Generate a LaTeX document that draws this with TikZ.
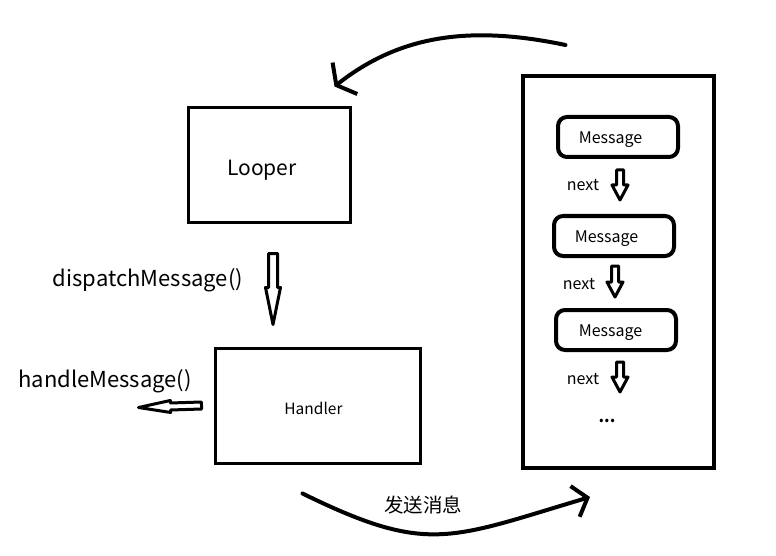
\documentclass[tikz,border=0pt]{standalone}
\usepackage{fontspec}
\setmainfont{Noto Sans CJK SC}
\usetikzlibrary{calc,arrows.meta}

% hollow block arrow: from, to, head length, head half width, shaft half width
\newcommand{\hollowarrow}[5]{%
	\coordinate (ha-c) at ($(#2)!#3!(#1)$);
	\draw[hollow] ($(#1)!#5!90:(#2)$) -- ($(ha-c)!#5!90:(#2)$) -- ($(ha-c)!#4!90:(#2)$) -- (#2)
		-- ($(ha-c)!#4!-90:(#2)$) -- ($(ha-c)!#5!-90:(#2)$) -- ($(#1)!#5!-90:(#2)$) -- cycle;
}
% move a label inside its box (down, left) without changing the box
\newcommand{\movetext}[3]{\raisebox{-#1}[\height][\depth]{#3}\kern#2}

\tikzset{
	box/.style={draw, line width=3pt},
	msgbox/.style={draw, line width=4pt, rounded corners=9pt, minimum width=120pt, minimum height=40pt, font=\fontsize{16}{18}\selectfont},
	hollow/.style={draw, line width=3pt, line join=round, fill=white},
	curvearrow/.style={line width=4pt, line cap=round},
	big/.style={font=\fontsize{22}{26}\selectfont},
	small/.style={font=\fontsize{16}{18}\selectfont},
}

\begin{document}
\begin{tikzpicture}[x=1pt, y=-1pt]
			\useasboundingbox (0,0) rectangle (776,556);
			% looper and handler
			\node[box, font=\fontsize{21}{24}\selectfont, minimum width=162, minimum height=114] (looper) at (269,165) {\movetext{5pt}{14pt}{Looper}};
			\node[box, font=\fontsize{15.5}{18}\selectfont, minimum width=205, minimum height=115] (handler) at (317.5,405.5) {\movetext{3pt}{8pt}{Handler}};
			\node[big] (dispatch) at (148,280) {dispatchMessage()};
			\node[big] (handle) at (105,381) {handleMessage()};
			% message queue
			\node[draw, line width=4pt, minimum width=191, minimum height=392] (queue) at (618.5,272) {};
			\node[msgbox] (m1) at (618,137) {\movetext{3pt}{15pt}{Message}};
			\node[msgbox] (m2) at (614,236) {\movetext{3pt}{15pt}{Message}};
			\node[msgbox] (m3) at (616,330) {\movetext{3pt}{11pt}{Message}};
			\node[small] (next1) at (583,185) {next};
			\node[small] (next2) at (579,284) {next};
			\node[small] (next3) at (583,379) {next};
			\node[font=\fontsize{16}{18}\selectfont\bfseries] (dots) at (607,421) {...};
			\node[font=\fontsize{19.5}{22}\selectfont] (send) at (423,505) {发送消息};
			% hollow arrows
			\coordinate (d1) at ($(looper.south)+(4,30)$);
			\coordinate (d2) at ($(d1 |- handler.north)+(0,-22)$);
			\hollowarrow{d1}{d2}{37pt}{7.5pt}{4.5pt}
			\coordinate (h1) at ($(handler.west)+(-12,0)$);
			\coordinate (h2) at ($(handler.west)+(-75,2)$);
			\hollowarrow{h1}{h2}{32pt}{6pt}{3.5pt}
			\coordinate (n1a) at ($(m1.south)+(2,11)$);
			\coordinate (n1b) at ($(m1.south)+(2,41)$);
			\hollowarrow{n1a}{n1b}{15pt}{8pt}{3.5pt}
			\coordinate (n2a) at ($(m2.south)+(1,8)$);
			\coordinate (n2b) at ($(m2.south)+(1,39)$);
			\hollowarrow{n2a}{n2b}{15pt}{8pt}{3.5pt}
			\coordinate (n3a) at ($(m3.south)+(4,10)$);
			\coordinate (n3b) at ($(m3.south)+(4,40)$);
			\hollowarrow{n3a}{n3b}{15pt}{8pt}{3.5pt}
			% curved arrows
			\coordinate (qtop) at ($(queue.north)+(-53,-29)$);
			\coordinate (ltop) at ($(looper.north east)+(-17,-20)$);
			\draw[curvearrow, -{Straight Barb[length=11pt, width=40pt]}] (qtop) .. controls (470,25) and (400,35) .. (ltop);
			\coordinate (hbot) at ($(handler.south)+(-15,29)$);
			\coordinate (qbot) at ($(queue.south west)+(69,27)$);
			\draw[curvearrow, -{Straight Barb[length=13pt, width=32pt]}] (hbot) .. controls (428,555) and (449,539) .. (qbot);
		\end{tikzpicture}
\end{document}
